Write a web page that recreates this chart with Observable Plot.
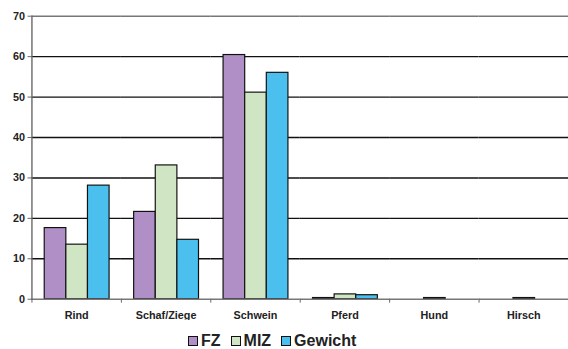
<!DOCTYPE html>
<html>
<head>
<meta charset="utf-8">
<script src="https://cdn.jsdelivr.net/npm/d3@7"></script>
<script src="https://cdn.jsdelivr.net/npm/@observablehq/plot@0.6"></script>
<style>
  html, body { margin: 0; padding: 0; background: #fff; overflow: hidden; }
  #wrap { position: relative; width: 568px; height: 349px; overflow: hidden; font-family: "Liberation Sans", Arial, sans-serif; }
  #chart svg { display: block; }
  #legend { position: absolute; left: 188px; top: 332px; display: flex; align-items: center; font-weight: bold; font-size: 16px; color: #222; line-height: 18px; }
  #legend .sw { box-sizing: border-box; width: 10px; height: 10px; border: 1px solid #111; margin-right: 3px; }
  #legend .lbl { margin-right: 10px; }
</style>
</head>
<body>
<div id="wrap">
  <div id="chart"></div>
  <div id="legend"></div>
</div>
<script>
// Animal groups and the three measures per group (percent)
const categories = ["Rind", "Schaf/Ziege", "Schwein", "Pferd", "Hund", "Hirsch"];
const series = ["FZ", "MIZ", "Gewicht"];
const fz = [17.6, 21.6, 60.4, 0.3, 0, 0];
const miz = [13.5, 33.1, 51.1, 1.2, 0.3, 0.3];
const gewicht = [28.1, 14.7, 56.0, 1.0, 0, 0];
const colors = ["#b08fc6", "#cfe5c3", "#4bc0ee"];
const yTicks = [0, 10, 20, 30, 40, 50, 60, 70];

const valuesBySeries = [fz, miz, gewicht];
const rows = categories.flatMap((c, i) =>
  series.map((s, j) => ({category: c, series: s, value: valuesBySeries[j][i]}))
).filter(d => d.value > 0);

const width = 578, marginLeft = 32;
const step = (width - marginLeft) / categories.length;

const chart = Plot.plot({
  width,
  height: 326,
  marginLeft,
  marginRight: 0,
  marginTop: 16,
  marginBottom: 22,
  style: {fontFamily: "'Liberation Sans', Arial, sans-serif", fontWeight: "bold", fontSize: "11px", color: "#222", background: "#fff"},
  fx: {domain: categories, padding: 0, label: null},
  x: {domain: series, paddingInner: 0, paddingOuter: 0.48, axis: null},
  y: {domain: [0, 70], label: null},
  color: {domain: series, range: colors},
  marks: [
    // horizontal gridlines
    Plot.ruleY(yTicks.filter(d => d > 0 && d < 70), {stroke: "#111", strokeWidth: 1.4}),
    Plot.ruleY([70], {stroke: "#777", strokeWidth: 1.4}),
    Plot.barY(rows, {fx: "category", x: "series", y: "value", fill: "series", stroke: "#111", strokeWidth: 1.2, inset: 0}),
    Plot.ruleY([0], {stroke: "#777", strokeWidth: 1.4}),
    Plot.frame({anchor: "left", facetAnchor: "left", stroke: "#666", strokeWidth: 1.4}),
    Plot.axisY({ticks: yTicks, tickSize: 4, tickPadding: 3, stroke: "#666", label: null, fontWeight: "bold"}),
    // category labels
    Plot.axisFx({anchor: "bottom", tickSize: 0, tickPadding: 12, label: null, fontWeight: "bold"}),
    // tick marks between groups
    Plot.axisFx({anchor: "bottom", tickSize: 4, tickFormat: () => "", label: null, dx: -step / 2, stroke: "#666"})
  ]
});
document.getElementById("chart").appendChild(chart);

const legend = document.getElementById("legend");
series.forEach((s, i) => {
  const sw = document.createElement("div");
  sw.className = "sw";
  sw.style.background = colors[i];
  const lbl = document.createElement("span");
  lbl.className = "lbl";
  lbl.textContent = s;
  legend.appendChild(sw);
  legend.appendChild(lbl);
});
</script>
</body>
</html>
